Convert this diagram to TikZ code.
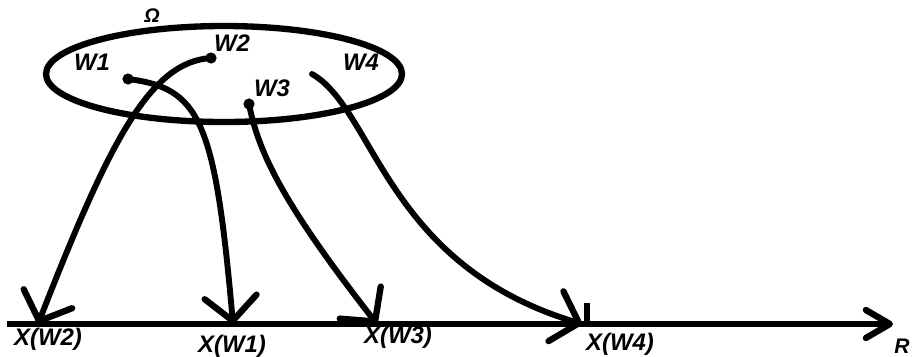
\documentclass[tikz,border=0pt]{standalone}
\usepackage{fontspec}
\setmainfont{Liberation Sans}
\usepackage{tikz}
\usetikzlibrary{arrows.meta,positioning}

\begin{document}
\begin{tikzpicture}[x=0.025cm, y=-0.025cm,
      lbl/.style={font=\fontsize{17}{19}\selectfont\bfseries\itshape, inner sep=0pt},
      pt/.style={circle, fill, inner sep=0pt, minimum size=2.8mm},
      barb/.style={-{Straight Barb[length=6mm, width=13mm, line width=4.5pt 0, round]}},
      map/.style={line width=4.2pt, line cap=round, barb},
      >=Stealth]
    \useasboundingbox (0,0) rectangle (912,356);
    % the set
    \draw[line width=4.5pt] (224,74) ellipse [x radius=178, y radius=48];
    \node[lbl, font=\fontsize{14}{16}\selectfont\bfseries\itshape] (om) at (152,16) {Ω};
    \node[lbl] (l1) at (92,62) {W1};
    \node[lbl] (l2) at (232,43) {W2};
    \node[lbl] (l3) at (272,88) {W3};
    \node[lbl] (l4) at (361,62) {W4};
    \node[pt] (w1) at (128,79) {};
    \node[pt] (w2) at (211,58) {};
    \node[pt] (w3) at (249,104) {};
    \coordinate (w4) at (312,74);
    % the real line
    \coordinate (a0) at (7,324);
    \coordinate (a1) at (893,324);
    \draw[line width=4pt, -{Straight Barb[length=6mm, width=7mm, line width=4.5pt 0, round]}] (a0) -- (a1);
    \node[lbl, font=\fontsize{15}{17}\selectfont\bfseries\itshape] (r) at (902,346) {R};
    \coordinate (x2) at (38,324);
    \coordinate (x1) at (233,324);
    \coordinate (x3) at (377,324);
    \coordinate (x4) at (582,324);
    \coordinate (t4) at (587,303);
    \draw[line width=4pt] (t4) -- (587,324);
    \node[lbl] (n2) at (48,339) {X(W2)};
    \node[lbl] (n1) at (232,346) {X(W1)};
    \node[lbl] (n3) at (398,337) {X(W3)};
    \node[lbl] (n4) at (620,344) {X(W4)};
    % the mapping
    \draw[map] (w2.center) .. controls (150,62) and (110,140) .. (x2);
    \draw[map] (w1.center) .. controls (200,88) and (215,120) .. (x1);
    \draw[map] (w3.center) .. controls (258,150) and (280,200) .. (x3);
    \draw[map] (w4) .. controls (375,110) and (385,265) .. (x4);
  \end{tikzpicture}
\end{document}
